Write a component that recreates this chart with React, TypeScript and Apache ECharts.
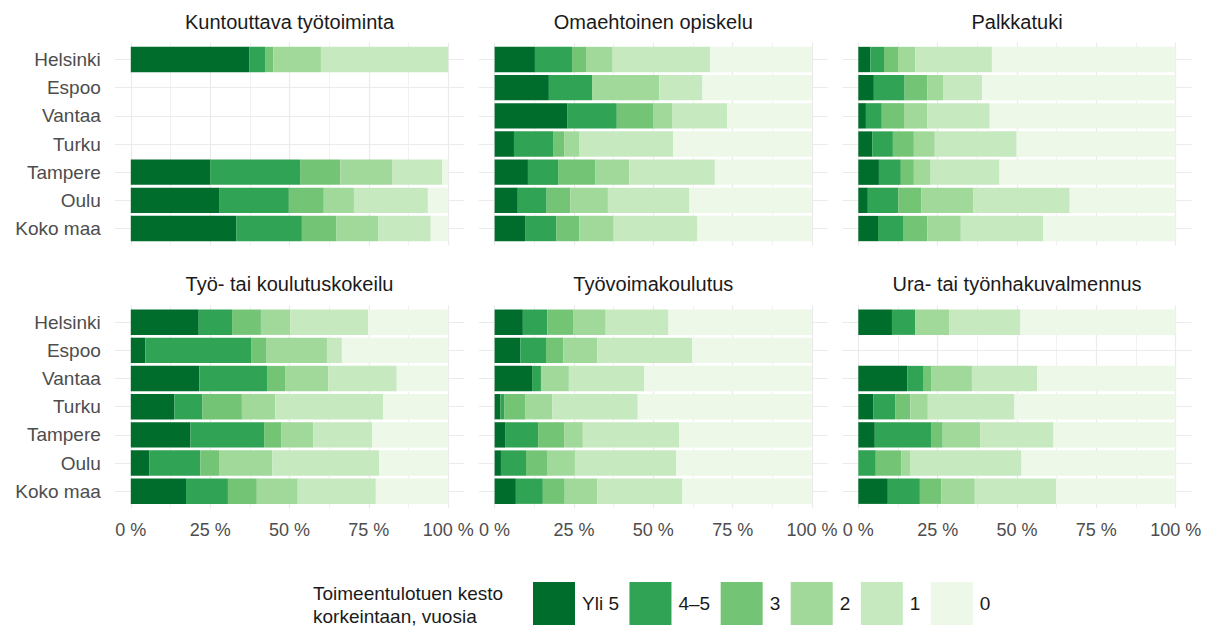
import React, { useEffect, useRef } from "react";
import * as echarts from "echarts";

const cities = ["Helsinki", "Espoo", "Vantaa", "Turku", "Tampere", "Oulu", "Koko maa"];
const levels = ["Yli 5", "4–5", "3", "2", "1", "0"];
const levelColors = ["#006d2c", "#31a354", "#74c476", "#a1d99b", "#c7e9c0", "#edf8e9"];
const panelTitles = [
  "Kuntouttava työtoiminta",
  "Omaehtoinen opiskelu",
  "Palkkatuki",
  "Työ- tai koulutuskokeilu",
  "Työvoimakoulutus",
  "Ura- tai työnhakuvalmennus",
];
const xTicks = [0, 25, 50, 75, 100];
const xTickLabels = ["0 %", "25 %", "50 %", "75 %", "100 %"];
const legendTitle = "Toimeentulotuen kesto\nkorkeintaan, vuosia";

// rows: cities; columns: Yli 5, 4–5, 3, 2, 1, 0 (percent)
const kuntouttava = [
  [37.3, 5.0, 2.6, 15.0, 40.1, 0],
  null,
  null,
  null,
  [25.0, 28.5, 12.5, 16.3, 15.8, 1.9],
  [28.0, 21.8, 11.0, 9.5, 23.3, 6.4],
  [33.2, 20.7, 10.8, 13.2, 16.6, 5.5],
];
const omaehtoinen = [
  [12.7, 11.7, 4.4, 8.4, 30.7, 32.1],
  [17.1, 13.6, 0, 21.2, 13.6, 34.5],
  [23.0, 15.5, 11.4, 6.0, 17.4, 26.7],
  [6.1, 12.5, 3.3, 4.7, 29.7, 43.7],
  [10.5, 9.5, 11.8, 10.6, 27.0, 30.6],
  [7.3, 9.1, 7.5, 11.8, 25.7, 38.6],
  [9.6, 9.8, 7.3, 10.8, 26.4, 36.1],
];
const palkkatuki = [
  [3.8, 4.3, 4.4, 5.5, 24.1, 57.9],
  [4.9, 9.7, 7.2, 4.9, 12.3, 61.0],
  [2.4, 5.0, 7.2, 7.2, 19.6, 58.6],
  [4.4, 6.5, 6.6, 6.6, 25.8, 50.1],
  [6.5, 6.9, 4.1, 5.3, 21.7, 55.5],
  [3.0, 9.6, 7.3, 16.4, 30.3, 33.4],
  [6.2, 8.1, 7.5, 10.5, 25.9, 41.8],
];
const kokeilu = [
  [21.4, 10.5, 9.1, 9.2, 24.6, 25.2],
  [4.6, 33.3, 4.9, 19.0, 4.7, 33.5],
  [21.6, 21.5, 5.5, 13.6, 21.6, 16.2],
  [13.7, 8.9, 12.4, 10.5, 34.0, 20.5],
  [18.8, 23.2, 5.5, 10.0, 18.6, 23.9],
  [5.9, 16.0, 5.9, 16.8, 33.6, 21.8],
  [17.4, 13.2, 9.1, 12.9, 24.6, 22.8],
];
const tyovoimakoulutus = [
  [8.9, 7.7, 8.3, 10.1, 19.8, 45.2],
  [8.1, 8.1, 5.5, 10.7, 29.9, 37.7],
  [11.8, 2.8, 0, 8.8, 23.7, 52.9],
  [1.8, 1.2, 6.6, 8.6, 26.9, 54.9],
  [3.3, 10.4, 8.2, 5.9, 30.4, 41.8],
  [2.0, 7.9, 6.6, 8.8, 31.9, 42.8],
  [6.7, 8.5, 6.9, 10.2, 26.9, 40.8],
];
const valmennus = [
  [10.6, 7.3, 0, 10.7, 22.5, 48.9],
  null,
  [15.5, 5.1, 2.5, 12.7, 20.6, 43.6],
  [4.8, 6.8, 4.8, 5.5, 27.3, 50.8],
  [5.2, 17.9, 3.5, 11.9, 23.0, 38.5],
  [0, 5.5, 8.0, 2.8, 35.1, 48.6],
  [9.3, 10.1, 6.8, 10.5, 25.6, 37.7],
];
const panelData = [kuntouttava, omaehtoinen, palkkatuki, kokeilu, tyovoimakoulutus, valmennus];

const FONT = "'Liberation Sans', Arial, sans-serif";

export default function App() {
  const ref = useRef<HTMLDivElement>(null);

  useEffect(() => {
    if (!ref.current) return;
    const chart = echarts.init(ref.current, null, { renderer: "svg" });

    const colX0 = [130.8, 494.6, 858.3];
    const plotW = 317.4;
    const rowC0 = [59.5, 322.2];
    const unit = 28.17;
    const gridColor = "#ebebeb";

    const grids: any[] = [];
    const xAxes: any[] = [];
    const yAxes: any[] = [];
    const series: any[] = [];
    const graphics: any[] = [];

    panelData.forEach((rows, p) => {
      const col = p % 3;
      const row = Math.floor(p / 3);
      const x0 = colX0[col];
      const c0 = rowC0[row];

      // A: horizontal gridlines at category centres, spanning expanded panel
      grids.push({ left: x0 - 0.05 * plotW, width: plotW * 1.1, top: c0, height: 6 * unit });
      xAxes.push({ gridIndex: 3 * p, type: "value", show: false, min: 0, max: 1 });
      yAxes.push({
        gridIndex: 3 * p,
        type: "category",
        data: cities,
        inverse: true,
        boundaryGap: false,
        axisLine: { show: false },
        axisTick: { show: false },
        axisLabel: { show: false },
        splitLine: { show: true, lineStyle: { color: gridColor, width: 1.2 } },
      });

      // B: vertical gridlines + x labels
      grids.push({ left: x0, width: plotW, top: c0 - 0.6 * unit, height: 7.2 * unit });
      xAxes.push({
        gridIndex: 3 * p + 1,
        type: "value",
        min: xTicks[0],
        max: xTicks[xTicks.length - 1],
        interval: 25,
        axisLine: { show: false },
        axisTick: { show: false },
        minorTick: { show: false, splitNumber: 2 },
        minorSplitLine: { show: true, lineStyle: { color: gridColor, width: 0.7 } },
        splitLine: { show: true, lineStyle: { color: gridColor, width: 1.2 } },
        axisLabel: {
          show: row === 1,
          margin: 13,
          fontSize: 18,
          color: "#4d4d4d",
          fontFamily: FONT,
          formatter: (v: number) => {
            const i = xTicks.indexOf(v);
            return i >= 0 ? xTickLabels[i] : "";
          },
        },
      });
      yAxes.push({ gridIndex: 3 * p + 1, type: "value", show: false, min: 0, max: 1 });

      // C: bars
      grids.push({ left: x0, width: plotW, top: c0 - unit / 2, height: 7 * unit });
      xAxes.push({ gridIndex: 3 * p + 2, type: "value", show: false, min: 0, max: 100 });
      yAxes.push({
        gridIndex: 3 * p + 2,
        type: "category",
        data: cities,
        inverse: true,
        axisLine: { show: false },
        axisTick: { show: false },
        splitLine: { show: false },
        axisLabel: {
          show: col === 0,
          margin: 30,
          fontSize: 19,
          color: "#4d4d4d",
          fontFamily: FONT,
        },
      });

      levels.forEach((lv, l) => {
        series.push({
          type: "bar",
          name: lv,
          xAxisIndex: 3 * p + 2,
          yAxisIndex: 3 * p + 2,
          stack: "p" + p,
          barCategoryGap: "10%",
          itemStyle: { color: levelColors[l] },
          data: rows.map((r) => (r ? r[l] : null)),
        });
      });

      graphics.push({
        type: "text",
        x: x0 + plotW / 2,
        y: row === 0 ? 22 : 284,
        style: {
          text: panelTitles[p],
          textAlign: "center",
          textVerticalAlign: "middle",
          fontSize: 20,
          fontFamily: FONT,
          fill: "#1a1a1a",
        },
      });
    });

    graphics.push({
      type: "text",
      x: 313,
      y: 605,
      style: {
        text: legendTitle,
        textAlign: "left",
        textVerticalAlign: "middle",
        fontSize: 19,
        lineHeight: 23,
        fontFamily: FONT,
        fill: "#1a1a1a",
      },
    });

    chart.setOption({
      animation: false,
      backgroundColor: "#ffffff",
      grid: grids,
      xAxis: xAxes,
      yAxis: yAxes,
      series,
      graphic: graphics,
      legend: {
        data: levels,
        icon: "rect",
        left: 533,
        top: 582,
        padding: 0,
        itemWidth: 42,
        itemHeight: 43,
        itemGap: 10.5,
        selectedMode: false,
        textStyle: {
          fontSize: 19,
          color: "#1a1a1a",
          fontFamily: FONT,
          padding: [0, 0, 0, 2],
        },
      },
    });

    return () => chart.dispose();
  }, []);

  return (
    <div
      ref={ref}
      style={{ position: "fixed", left: 0, top: 0, width: 1214, height: 628, background: "#fff" }}
    />
  );
}
